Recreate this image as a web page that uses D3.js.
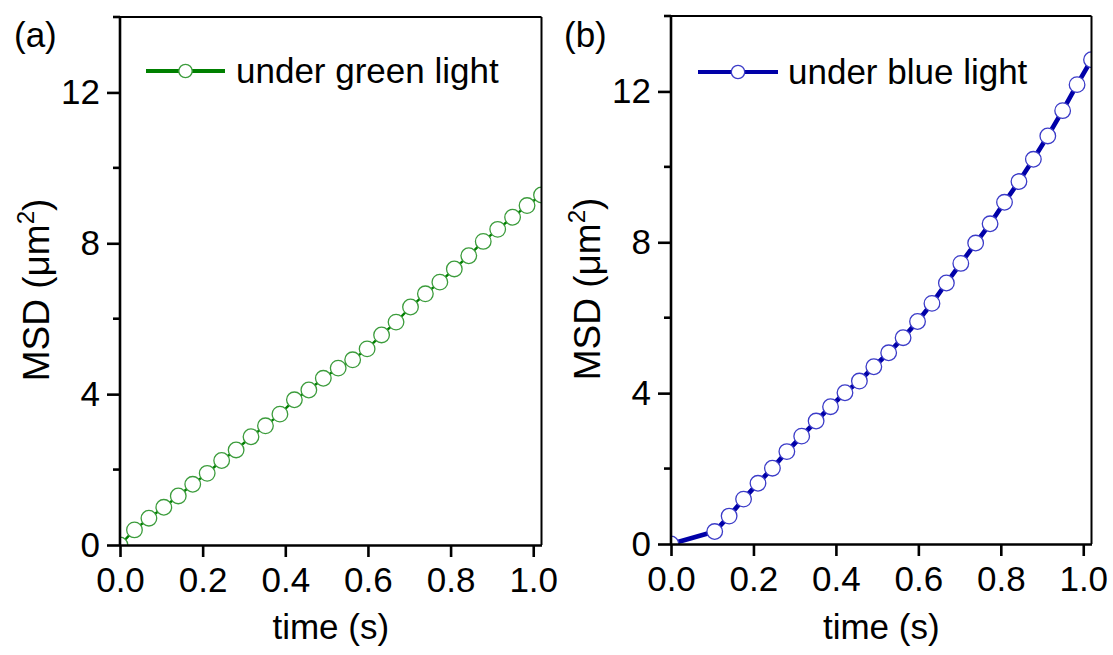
<!DOCTYPE html>
<html>
<head>
<meta charset="utf-8">
<script src="https://cdn.jsdelivr.net/npm/d3@7"></script>
<style>
  html, body { margin: 0; padding: 0; background: #fff; }
  svg { display: block; }
  text { font-family: "Liberation Sans", Arial, sans-serif; fill: #000; }
</style>
</head>
<body>
<svg id="chart" width="1113" height="655"></svg>
<script>
// Lag times (s)
const timeGreen = [0, 0.035, 0.070, 0.106, 0.141, 0.176, 0.211, 0.246, 0.281, 0.317,
  0.352, 0.387, 0.422, 0.457, 0.492, 0.528, 0.563, 0.598, 0.633, 0.668,
  0.703, 0.739, 0.774, 0.809, 0.844, 0.879, 0.914, 0.950, 0.985, 1.020];
// MSD (µm²) under green light
const msdGreen = [0, 0.40, 0.71, 1.00, 1.30, 1.61, 1.90, 2.24, 2.52, 2.87,
  3.16, 3.47, 3.85, 4.11, 4.42, 4.69, 4.91, 5.20, 5.57, 5.91,
  6.31, 6.66, 6.97, 7.32, 7.67, 8.05, 8.37, 8.69, 9.00, 9.28];

const timeBlue = [0, 0.106, 0.141, 0.176, 0.211, 0.246, 0.281, 0.317,
  0.352, 0.387, 0.422, 0.457, 0.492, 0.528, 0.563, 0.598, 0.633, 0.668,
  0.703, 0.739, 0.774, 0.809, 0.844, 0.879, 0.914, 0.950, 0.985, 1.020];
// MSD (µm²) under blue light
const msdBlue = [0, 0.33, 0.74, 1.19, 1.61, 2.01, 2.45, 2.86, 3.26, 3.64,
  4.01, 4.32, 4.70, 5.07, 5.47, 5.90, 6.38, 6.92, 7.44, 7.98,
  8.49, 9.06, 9.61, 10.20, 10.82, 11.49, 12.18, 12.84];

const xTicks = [0, 0.2, 0.4, 0.6, 0.8, 1.0];
const yMajorTicks = [0, 4, 8, 12];
const yMinorTicks = [2, 6, 10, 14];

const panels = [
  { tag: "(a)", legend: "under green light", time: timeGreen, msd: msdGreen,
    left: 120, right: 541.5, top: 17, bottom: 545,
    lineColor: "#008000", lineWidth: 2.4, markerStroke: "#3c9c3c", legendLine: "#008000",
    tagX: 14, legendX0: 146, legendX1: 225, legendY: 71, legendTextX: 236 },
  { tag: "(b)", legend: "under blue light", time: timeBlue, msd: msdBlue,
    left: 671, right: 1091.5, top: 16, bottom: 544,
    lineColor: "#0000a8", lineWidth: 4.6, markerStroke: "#3c3cc8", legendLine: "#0000a8",
    tagX: 564, legendX0: 698, legendX1: 778, legendY: 72, legendTextX: 788 }
];

const svg = d3.select("#chart");
const FONT = 35;

panels.forEach((p, k) => {
  const x = d3.scaleLinear().domain([0, 1.02]).range([p.left, p.right]);
  const y = d3.scaleLinear().domain([0, 14]).range([p.bottom, p.top]);
  const g = svg.append("g");

  const clipId = "clip" + k;
  svg.append("clipPath").attr("id", clipId)
    .append("rect")
    .attr("x", p.left).attr("y", p.top)
    .attr("width", p.right - p.left).attr("height", p.bottom - p.top);

  const pts = p.time.map((t, i) => [t, p.msd[i]]);
  const marks = g.append("g").attr("clip-path", `url(#${clipId})`);

  marks.append("path")
    .datum(pts)
    .attr("fill", "none")
    .attr("stroke", p.lineColor)
    .attr("stroke-width", p.lineWidth)
    .attr("stroke-linejoin", "round")
    .attr("d", d3.line().x(d => x(d[0])).y(d => y(d[1])));

  marks.selectAll("circle")
    .data(pts)
    .join("circle")
    .attr("cx", d => x(d[0]))
    .attr("cy", d => y(d[1]))
    .attr("r", 7.8)
    .attr("fill", "#fff")
    .attr("stroke", p.markerStroke)
    .attr("stroke-width", 1.3);

  // frame: top and right edges
  g.append("line").attr("x1", p.left).attr("x2", p.right).attr("y1", p.top).attr("y2", p.top)
    .attr("stroke", "#000").attr("stroke-width", 2);
  g.append("line").attr("x1", p.right).attr("x2", p.right).attr("y1", p.top).attr("y2", p.bottom)
    .attr("stroke", "#000").attr("stroke-width", 2);

  // bottom axis
  const xAxis = g.append("g")
    .attr("transform", `translate(0,${p.bottom})`)
    .call(d3.axisBottom(x).tickValues(xTicks).tickFormat(d3.format(".1f"))
      .tickSize(12).tickPadding(10).tickSizeOuter(0));
  xAxis.select(".domain").attr("stroke-width", 2.6);
  xAxis.selectAll(".tick line").attr("stroke-width", 2.6);
  xAxis.selectAll(".tick text").attr("font-size", FONT).attr("font-family", null);

  // left axis: labelled major ticks plus short minor ticks
  const yAxis = g.append("g")
    .attr("transform", `translate(${p.left},0)`)
    .call(d3.axisLeft(y).tickValues(yMajorTicks).tickFormat(d3.format("d"))
      .tickSize(13).tickPadding(7).tickSizeOuter(0));
  yAxis.select(".domain").attr("stroke-width", 2.6)
    .attr("d", `M0,${p.bottom + 1}V${p.top - 1}`);
  yAxis.selectAll(".tick line").attr("stroke-width", 2.6);
  yAxis.selectAll(".tick text").attr("font-size", FONT).attr("font-family", null);

  g.append("g")
    .attr("transform", `translate(${p.left},0)`)
    .selectAll("line")
    .data(yMinorTicks)
    .join("line")
    .attr("x1", -7).attr("x2", 0)
    .attr("y1", d => y(d)).attr("y2", d => y(d))
    .attr("stroke", "#000").attr("stroke-width", 2.6);

  // axis titles
  const midX = (p.left + p.right) / 2;
  g.append("text")
    .attr("x", midX).attr("y", 639)
    .attr("text-anchor", "middle")
    .attr("font-size", FONT)
    .text("time (s)");

  const midY = (p.top + p.bottom) / 2 + 9;
  const yTitle = g.append("text")
    .attr("transform", `translate(${p.left - 71},${midY}) rotate(-90)`)
    .attr("text-anchor", "middle")
    .attr("font-size", FONT + 2);
  yTitle.append("tspan").text("MSD (\u03bcm");
  yTitle.append("tspan").attr("font-size", 24).attr("dy", -15).text("2");
  yTitle.append("tspan").attr("dy", 15).text(")");

  // panel tag
  g.append("text")
    .attr("x", p.tagX).attr("y", 47)
    .attr("font-size", FONT)
    .text(p.tag);

  // legend
  g.append("line")
    .attr("x1", p.legendX0).attr("x2", p.legendX1)
    .attr("y1", p.legendY).attr("y2", p.legendY)
    .attr("stroke", p.legendLine).attr("stroke-width", 4.2);
  g.append("circle")
    .attr("cx", (p.legendX0 + p.legendX1) / 2).attr("cy", p.legendY)
    .attr("r", 6.7)
    .attr("fill", "#fff")
    .attr("stroke", p.markerStroke).attr("stroke-width", 1.3);
  g.append("text")
    .attr("x", p.legendTextX).attr("y", p.legendY + 12)
    .attr("font-size", FONT)
    .text(p.legend);
});
</script>
</body>
</html>
